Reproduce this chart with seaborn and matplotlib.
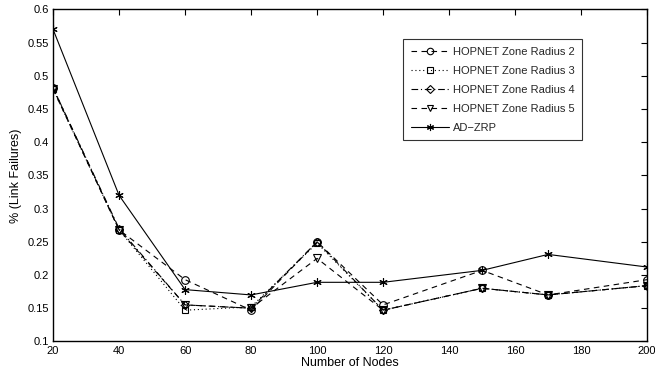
import matplotlib
matplotlib.use("Agg")
import matplotlib.pyplot as plt
import seaborn as sns
import pandas as pd

nodes = [20, 40, 60, 80, 100, 120, 150, 170, 200]
radius2 = [0.482, 0.268, 0.193, 0.147, 0.250, 0.155, 0.207, 0.170, 0.193]
radius3 = [0.480, 0.268, 0.147, 0.152, 0.248, 0.147, 0.180, 0.170, 0.184]
radius4 = [0.482, 0.270, 0.155, 0.150, 0.250, 0.147, 0.180, 0.170, 0.184]
radius5 = [0.480, 0.268, 0.155, 0.150, 0.225, 0.147, 0.180, 0.170, 0.184]
adzrp = [0.570, 0.320, 0.178, 0.170, 0.189, 0.189, 0.207, 0.231, 0.212]
labels = ["HOPNET Zone Radius 2", "HOPNET Zone Radius 3",
          "HOPNET Zone Radius 4", "HOPNET Zone Radius 5", "AD\u2212ZRP"]

sns.set_theme(style="white")
plt.rcParams['font.family'] = ['Liberation Sans', 'DejaVu Sans']

fig = plt.figure(figsize=(6.55, 3.76), dpi=100)
ax = fig.add_axes([0.081, 0.092, 0.907, 0.883])

series = [radius2, radius3, radius4, radius5, adzrp]
styles = [(0, (5, 4)), (0, (1, 2.5)), (0, (6, 2.5, 1, 2.5)), (0, (5, 4)), '-']
markers = ['o', 's', 'D', 'v', (6, 2, 0)]
msizes = [5.5, 4.5, 4.5, 5.5, 6]

for vals, lab, ls, mk, ms in zip(series, labels, styles, markers, msizes):
    df = pd.DataFrame({"Nodes": nodes, "Value": vals})
    sns.lineplot(data=df, x="Nodes", y="Value", ax=ax, color='black',
                 linestyle=ls, marker=mk, markersize=ms, linewidth=0.8,
                 markerfacecolor='none', markeredgecolor='black',
                 markeredgewidth=0.8, label=lab)

ax.set_xlim(20, 200)
ax.set_ylim(0.1, 0.6)
ax.set_xticks([20, 40, 60, 80, 100, 120, 140, 160, 180, 200])
ax.set_yticks([0.1, 0.15, 0.2, 0.25, 0.3, 0.35, 0.4, 0.45, 0.5, 0.55, 0.6])
ax.set_yticklabels(["0.1", "0.15", "0.2", "0.25", "0.3", "0.35", "0.4",
                    "0.45", "0.5", "0.55", "0.6"])
ax.tick_params(axis='both', which='both', direction='in', length=4,
               width=0.8, top=True, right=True, labelsize=8, pad=3,
               color='black', labelcolor='black')
for s in ax.spines.values():
    s.set_color('black')
    s.set_linewidth(1.0)
ax.set_xlabel("Number of Nodes", fontsize=9, labelpad=1, color='black')
ax.set_ylabel("% (Link Failures)", fontsize=9, labelpad=4, color='black')

leg = ax.legend(loc='upper left', bbox_to_anchor=(0.589, 0.91),
                borderaxespad=0, fontsize=8, frameon=True, fancybox=False,
                edgecolor='black', handlelength=3.4, handletextpad=0.4,
                borderpad=0.7, labelspacing=0.8, markerscale=0.85)
leg.get_frame().set_linewidth(0.8)

fig.savefig("out.png", dpi=100)
